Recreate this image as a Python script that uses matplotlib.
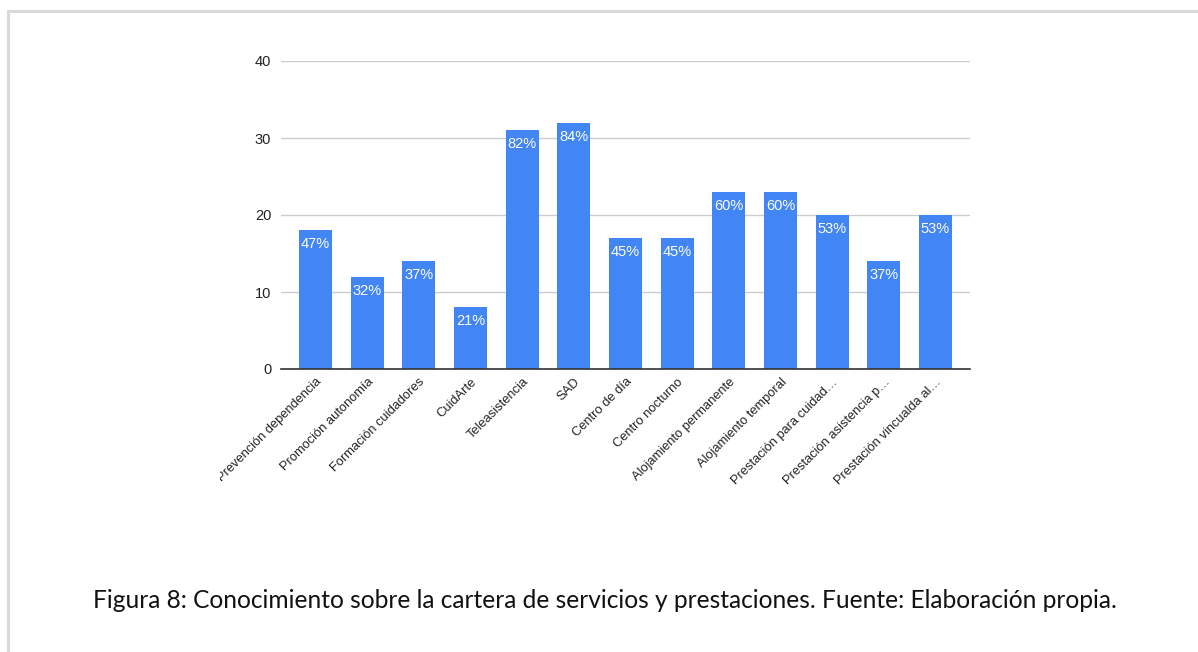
import matplotlib
matplotlib.use("Agg")
import matplotlib.pyplot as plt
from matplotlib.transforms import Bbox
from matplotlib.lines import Line2D

categories = [
    "Prevención dependencia", "Promoción autonomía", "Formación cuidadores",
    "CuidArte", "Teleasistencia", "SAD", "Centro de día", "Centro nocturno",
    "Alojamiento permanente", "Alojamiento temporal", "Prestación para cuidad…",
    "Prestación asistencia p…", "Prestación vincualda al…",
]
counts = [18, 12, 14, 8, 31, 32, 17, 17, 23, 23, 20, 14, 20]
percent_labels = ["47%", "32%", "37%", "21%", "82%", "84%", "45%", "45%",
                  "60%", "60%", "53%", "37%", "53%"]
y_ticks = [0, 10, 20, 30, 40]
caption = ("Figura 8: Conocimiento sobre la cartera de servicios y prestaciones. "
           "Fuente: Elaboración propia.")

W, H = 1198, 652
fig = plt.figure(figsize=(W / 100, H / 100), dpi=100)
fig.patch.set_facecolor("white")

# page frame (top and left edges)
frame_col = "#dadada"
fig.add_artist(Line2D([8 / W, 1], [1 - 11 / H, 1 - 11 / H], color=frame_col,
                      lw=2.2, transform=fig.transFigure))
fig.add_artist(Line2D([8 / W, 8 / W], [0, 1 - 11 / H], color=frame_col,
                      lw=2.2, transform=fig.transFigure))

ax = fig.add_axes([281 / W, (H - 369) / H, 689 / W, 308 / H])
x = list(range(len(categories)))
ax.bar(x, counts, width=0.64, color="#4285F4", zorder=3)

for xi, c, lab in zip(x, counts, percent_labels):
    ax.annotate(lab, (xi, c), xytext=(0, -5), textcoords="offset points",
                ha="center", va="top", color="white", fontsize=10.5,
                family="Liberation Sans", zorder=4)

ax.set_xlim(-0.67, len(categories) - 0.33)
ax.set_ylim(0, 40)
ax.set_yticks(y_ticks)
ax.set_yticklabels([str(t) for t in y_ticks], family="Liberation Sans",
                   fontsize=10.5, color="#222222")
ax.yaxis.grid(True, color="#cccccc", lw=1, zorder=0)
ax.tick_params(axis="y", length=0, pad=7)
ax.tick_params(axis="x", length=0, pad=5)
for s in ["top", "right", "left"]:
    ax.spines[s].set_visible(False)
ax.spines["bottom"].set_color("#333333")
ax.spines["bottom"].set_linewidth(1.2)
ax.spines["bottom"].set_zorder(5)

ax.set_xticks(x)
ax.set_xticklabels(categories, rotation=45, ha="right",
                   rotation_mode="anchor", family="Liberation Sans",
                   fontsize=9.3, color="#222222")

# chart area clips labels on its left edge
clip = Bbox.from_extents(220, 0, W, H)
for t in ax.get_xticklabels():
    t.set_clip_box(clip)
    t.set_clip_on(True)

fig.text(605 / W, 1 - 601 / H, caption, ha="center", va="center",
         family="Lato", fontsize=17.65, color="#111111")

fig.savefig("out.png", dpi=100, facecolor="white")
